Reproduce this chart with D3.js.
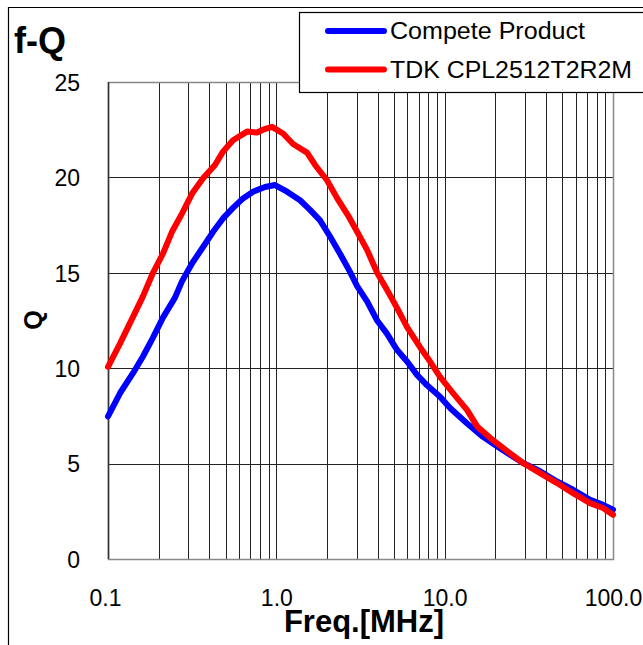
<!DOCTYPE html>
<html lang="en">
<head>
<meta charset="UTF-8">
<script src="https://cdn.jsdelivr.net/npm/d3@7/dist/d3.min.js"></script>
<title>f-Q</title>
<style>
  body { margin: 0; background: #fff; }
  svg text { font-family: "Liberation Sans", Arial, sans-serif; fill: #000; }
</style>
</head>
<body>
<svg id="chart" width="643" height="645"></svg>
<script>
// series names
var seriesNames = ["Compete Product", "TDK CPL2512T2R2M"];
var seriesColors = ["#0000ff", "#ff0000"];

// Compete Product: frequency [MHz] / Q
var competeFreq = [0.1, 0.118, 0.141, 0.161, 0.185, 0.212, 0.25, 0.275, 0.316, 0.367, 0.421, 0.482, 0.553, 0.634, 0.727, 0.857, 0.982,
  1.158, 1.383, 1.586, 1.818, 2.085, 2.39, 2.74, 3.02, 3.46, 3.97, 4.55, 5.22, 5.98, 6.85, 7.86, 9.39,
  10.8, 13.6, 16.9, 21.3, 29.2, 36.9, 46.5, 57.9, 73.1, 87.3, 100];
var competeQ = [7.47, 8.7, 9.75, 10.6, 11.6, 12.65, 13.7, 14.55, 15.5, 16.35, 17.15, 17.85, 18.4, 18.9, 19.25, 19.5, 19.6,
  19.25, 18.8, 18.3, 17.75, 16.9, 16.0, 15.05, 14.3, 13.5, 12.5, 11.8, 10.95, 10.35, 9.65, 9.1, 8.5,
  7.9, 7.1, 6.4, 5.8, 5.03, 4.6, 4.06, 3.63, 3.1, 2.84, 2.58];

// TDK CPL2512T2R2M
var tdkFreq = [0.1, 0.118, 0.141, 0.161, 0.185, 0.212, 0.24, 0.275, 0.316, 0.367, 0.432, 0.482, 0.553, 0.67, 0.768, 0.834, 0.943,
  1.096, 1.257, 1.522, 1.698, 2.0, 2.3, 2.67, 3.02, 3.46, 3.97, 4.55, 5.22, 5.98, 7.14, 8.19, 9.39,
  11.2, 13.6, 15.6, 18.6, 23.5, 29.2, 36.9, 46.5, 57.9, 73.1, 87.3, 100];
var tdkQ = [10.07, 11.3, 12.7, 13.75, 15.0, 16.0, 17.15, 18.1, 19.15, 19.95, 20.65, 21.35, 21.95, 22.4, 22.35, 22.5, 22.65,
  22.3, 21.75, 21.3, 20.65, 19.85, 18.9, 18.0, 17.15, 16.2, 15.0, 14.1, 13.15, 12.15, 11.1, 10.35, 9.55,
  8.7, 7.8, 6.95, 6.35, 5.65, 5.03, 4.5, 3.98, 3.45, 2.93, 2.67, 2.32];

var xTickValues = [0.1, 1, 10, 100];
var xTickLabels = ["0.1", "1.0", "10.0", "100.0"];
var yTickValues = [0, 5, 10, 15, 20, 25];

var svg = d3.select("#chart");
var pLeft = 108, pRight = 613, pTop = 82, pBottom = 559;

var x = d3.scaleLog().domain([0.1, 100]).range([pLeft, pRight]);
var y = d3.scaleLinear().domain([0, 25]).range([pBottom, pTop]);

// outer frame (only top and left are inside the picture)
svg.append("path")
  .attr("d", "M8.5,645 L8.5,7.5 L643,7.5")
  .attr("fill", "none").attr("stroke", "#000").attr("stroke-width", 1.2);

// minor + major vertical grid
var gridX = [];
[0.1, 1, 10].forEach(function (dec) {
  for (var k = 1; k <= 9; k++) gridX.push(dec * k);
});
svg.append("g").selectAll("line")
  .data(gridX.filter(function (d) { return d > 0.1; }))
  .enter().append("line")
  .attr("x1", function (d) { return Math.round(x(d)) + 0.5; })
  .attr("x2", function (d) { return Math.round(x(d)) + 0.5; })
  .attr("y1", pTop).attr("y2", pBottom)
  .attr("stroke", "#222").attr("stroke-width", 1);

// horizontal grid
svg.append("g").selectAll("line")
  .data([5, 10, 15, 20])
  .enter().append("line")
  .attr("x1", pLeft).attr("x2", pRight)
  .attr("y1", function (d) { return Math.round(y(d)) + 0.5; })
  .attr("y2", function (d) { return Math.round(y(d)) + 0.5; })
  .attr("stroke", "#222").attr("stroke-width", 1);

// plot frame
svg.append("rect")
  .attr("x", pLeft + 0.5).attr("y", pTop + 0.5)
  .attr("width", pRight - pLeft).attr("height", pBottom - pTop)
  .attr("fill", "none").attr("stroke", "#888").attr("stroke-width", 1.5);
svg.append("line")
  .attr("x1", pLeft + 0.5).attr("x2", pLeft + 0.5).attr("y1", pTop).attr("y2", pBottom)
  .attr("stroke", "#333").attr("stroke-width", 1.5);

// axes (labels only, using d3 axis)
var xAxis = d3.axisBottom(x).tickValues(xTickValues).tickSize(0)
  .tickFormat(function (d, i) { return xTickLabels[i]; });
var gx = svg.append("g").attr("transform", "translate(0," + pBottom + ")").call(xAxis);
gx.select(".domain").remove();
gx.selectAll("text").attr("dy", null).attr("y", 47)
  .attr("dx", function (d, i) { return i === 0 ? -3 : 0; })
  .style("font-size", "23px").style("font-family", "Liberation Sans, Arial, sans-serif").attr("fill", "#000");

var yAxis = d3.axisLeft(y).tickValues(yTickValues).tickSize(0).tickFormat(d3.format("d"));
var gy = svg.append("g").attr("transform", "translate(" + pLeft + ",0)").call(yAxis);
gy.select(".domain").remove();
gy.selectAll("text").attr("x", -28).attr("dy", "0.36em")
  .style("font-size", "23px").style("font-family", "Liberation Sans, Arial, sans-serif").attr("fill", "#000");

// curves
var line = d3.line()
  .x(function (d) { return x(d[0]); })
  .y(function (d) { return y(d[1]); });

var series = [
  d3.zip(competeFreq, competeQ),
  d3.zip(tdkFreq, tdkQ)
];
svg.append("g").selectAll("path")
  .data(series)
  .enter().append("path")
  .attr("d", line)
  .attr("fill", "none")
  .attr("stroke", function (d, i) { return seriesColors[i]; })
  .attr("stroke-width", 6)
  .attr("stroke-linejoin", "round")
  .attr("stroke-linecap", "round");

// titles
svg.append("text").attr("x", 14).attr("y", 53)
  .style("font-size", "36px").style("font-weight", "bold").text("f-Q");
svg.append("text").attr("x", 364).attr("y", 632)
  .attr("text-anchor", "middle")
  .style("font-size", "31px").style("font-weight", "bold").text("Freq.[MHz]");
svg.append("text")
  .attr("transform", "translate(42,320) rotate(-90)")
  .attr("text-anchor", "middle")
  .style("font-size", "25px").style("font-weight", "bold").text("Q");

// legend
var legendWidths = [195, 242];
var lg = svg.append("g");
lg.append("rect").attr("x", 299.5).attr("y", 12.5).attr("width", 360).attr("height", 80)
  .attr("fill", "#fff").attr("stroke", "#000").attr("stroke-width", 1.2);
var items = lg.selectAll("g.item").data(seriesNames).enter().append("g")
  .attr("transform", function (d, i) { return "translate(0," + (31 + i * 38.5) + ")"; });
items.append("line").attr("x1", 328).attr("x2", 384).attr("y1", 0).attr("y2", 0)
  .attr("stroke", function (d, i) { return seriesColors[i]; })
  .attr("stroke-width", 6).attr("stroke-linecap", "round");
items.append("text").attr("x", 390).attr("y", 0).attr("dy", "0.36em")
  .attr("textLength", function (d, i) { return legendWidths[i]; })
  .attr("lengthAdjust", "spacingAndGlyphs")
  .style("font-size", "23px").text(function (d) { return d; });
</script>
</body>
</html>
